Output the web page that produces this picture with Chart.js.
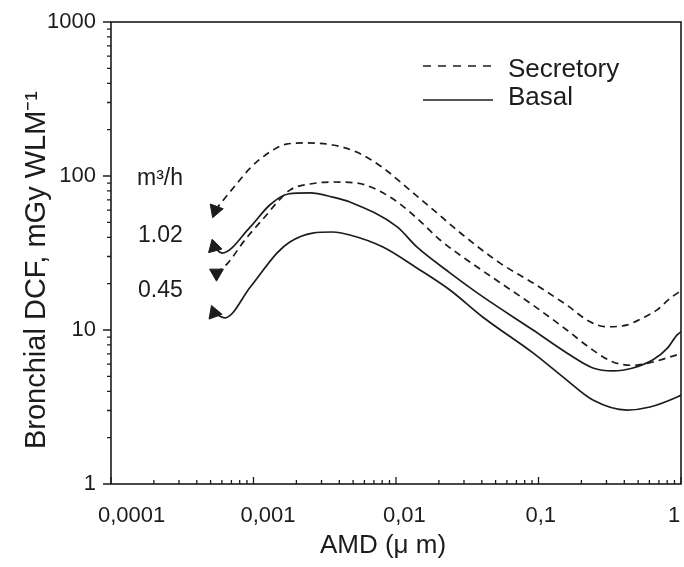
<!DOCTYPE html>
<html>
<head>
<meta charset="utf-8">
<script src="https://cdn.jsdelivr.net/npm/chart.js@4/dist/chart.umd.min.js"></script>
<style>
  html, body { margin: 0; padding: 0; background: #fff; }
  #wrap { width: 684px; height: 567px; }
</style>
</head>
<body>
<div id="wrap"><canvas id="c" width="684" height="567"></canvas></div>
<script>
// ---- data ----
const xTickValues = [0.0001, 0.001, 0.01, 0.1, 1];
const xTickLabels = ['0,0001', '0,001', '0,01', '0,1', '1'];
const yTickValues = [1, 10, 100, 1000];
const yTickLabels = ['1', '10', '100', '1000'];

const seriesNames = ['Secretory', 'Basal'];
const flowRateLabels = ['m\u00b3/h', '1.02', '0.45'];
const xTitle = 'AMD (\u03bc m)';
const yTitle = 'Bronchial DCF, mGy WLM\u207b\u00b9';

// Secretory, 1.02 m3/h (upper dashed)
const sec102X = [0.00054, 0.0006, 0.00077, 0.00095, 0.0013, 0.0017, 0.0024, 0.0036, 0.0053, 0.0081, 0.0125, 0.0194, 0.0295, 0.0537, 0.0915, 0.158, 0.23, 0.30, 0.42, 0.54, 0.68, 0.84, 1.0];
const sec102Y = [60, 68, 90, 113, 143, 161, 164, 159, 143, 113, 81, 57.5, 41.4, 27.2, 20.2, 14.5, 11.3, 10.5, 10.8, 12.0, 13.5, 16.1, 18];

// Secretory, 0.45 m3/h (lower dashed)
const sec045X = [0.00055, 0.00066, 0.00087, 0.00115, 0.0018, 0.0025, 0.0036, 0.0053, 0.0091, 0.014, 0.0204, 0.0315, 0.0537, 0.0915, 0.158, 0.241, 0.333, 0.46, 0.636, 0.94, 1.0];
const sec045Y = [23.4, 27.2, 38.4, 51.8, 81, 88.7, 91.4, 90, 73, 53.3, 38.4, 28.5, 20.3, 14.5, 10, 7.4, 6.2, 5.9, 6.2, 6.9, 7.0];

// Basal, 1.02 m3/h (upper solid)
const bas102X = [0.00053, 0.0006, 0.00095, 0.0013, 0.00175, 0.0025, 0.0036, 0.00475, 0.0102, 0.014, 0.0239, 0.0408, 0.0915, 0.158, 0.241, 0.333, 0.46, 0.636, 0.80, 0.94, 1.0];
const bas102Y = [34.6, 31.6, 46.7, 64.8, 76.4, 77.6, 73, 67.8, 46.7, 34.6, 23.5, 16.4, 10, 7.1, 5.67, 5.42, 5.67, 6.4, 7.6, 9.3, 9.7];

// Basal, 0.45 m3/h (lower solid)
const bas045X = [0.00053, 0.00063, 0.00095, 0.00146, 0.0018, 0.0026, 0.0036, 0.00475, 0.0081, 0.014, 0.0239, 0.0408, 0.0915, 0.158, 0.241, 0.418, 0.606, 0.94, 1.0];
const bas045Y = [12.9, 12.0, 19, 31.6, 37.3, 42.6, 43.3, 41.4, 34.6, 25.3, 18.2, 12.1, 7.1, 4.73, 3.51, 3.02, 3.16, 3.67, 3.78];

// ---- styling ----
const INK = '#1c1c1c';
const FAMILY = "'Liberation Sans', Arial, Helvetica, sans-serif";
const DASH = [7, 5];

function pts(xs, ys) { return xs.map((v, i) => ({ x: v, y: ys[i] })); }

function makeSet(label, xs, ys, dashed, rot) {
  return {
    label: label,
    data: pts(xs, ys),
    borderColor: INK,
    borderWidth: 1.7,
    borderDash: dashed ? DASH : [],
    fill: false,
    cubicInterpolationMode: 'monotone',
    pointStyle: 'triangle',
    pointRotation: rot,
    pointRadius: (c) => c.dataIndex === 0 ? 8 : 0,
    pointHoverRadius: 0,
    pointBackgroundColor: INK,
    pointBorderColor: INK,
    pointBorderWidth: 1
  };
}

const overlay = {
  id: 'overlay',
  afterDraw(chart) {
    const { ctx, chartArea: a, scales } = chart;
    const x = scales.x, y = scales.y;
    ctx.save();
    ctx.strokeStyle = INK;
    ctx.lineWidth = 1.6;
    ctx.setLineDash([]);
    ctx.strokeRect(a.left, a.top, a.right - a.left, a.bottom - a.top);

    // x ticks (inward)
    ctx.lineWidth = 1.3;
    ctx.beginPath();
    for (let n = -4; n <= 0; n++) {
      for (let m = 1; m <= 9; m++) {
        const v = m * Math.pow(10, n);
        if (v > 1.0000001) break;
        const px = x.getPixelForValue(v);
        const len = m === 1 ? 7 : 4;
        ctx.moveTo(px, a.bottom);
        ctx.lineTo(px, a.bottom - len);
      }
    }
    // y ticks (outward)
    for (let n = 0; n <= 3; n++) {
      for (let m = 1; m <= 9; m++) {
        const v = m * Math.pow(10, n);
        if (v > 1000.0001) break;
        const py = y.getPixelForValue(v);
        const len = m === 1 ? 8 : 4;
        ctx.moveTo(a.left, py);
        ctx.lineTo(a.left - len, py);
      }
    }
    ctx.stroke();

    // flow-rate annotations
    ctx.fillStyle = INK;
    ctx.font = '23px ' + FAMILY;
    ctx.textAlign = 'left';
    ctx.textBaseline = 'alphabetic';
    ctx.fillText(flowRateLabels[0], 137, 185);
    ctx.fillText(flowRateLabels[1], 138, 242);
    ctx.fillText(flowRateLabels[2], 138, 297);

    // legend
    ctx.lineWidth = 1.7;
    ctx.setLineDash([8, 7]);
    ctx.beginPath(); ctx.moveTo(423, 66); ctx.lineTo(498, 66); ctx.stroke();
    ctx.setLineDash([]);
    ctx.beginPath(); ctx.moveTo(423, 100); ctx.lineTo(493, 100); ctx.stroke();
    ctx.font = '26px ' + FAMILY;
    ctx.fillText(seriesNames[0], 508, 77);
    ctx.fillText(seriesNames[1], 508, 105);

    // axis titles
    ctx.font = '26px ' + FAMILY;
    ctx.textAlign = 'center';
    ctx.fillText(xTitle, 383, 553);
    ctx.save();
    ctx.translate(45, 270);
    ctx.rotate(-Math.PI / 2);
    ctx.font = '29px ' + FAMILY;
    ctx.fillText(yTitle, 0, 0);
    ctx.restore();

    ctx.restore();
  }
};

const chart = new Chart(document.getElementById('c'), {
  type: 'line',
  data: {
    datasets: [
      makeSet('Secretory 1.02', sec102X, sec102Y, true, 200),
      makeSet('Basal 1.02', bas102X, bas102Y, false, 345),
      makeSet('Secretory 0.45', sec045X, sec045Y, true, 180),
      makeSet('Basal 0.45', bas045X, bas045Y, false, 340)
    ]
  },
  options: {
    responsive: false,
    animation: false,
    events: [],
    layout: { autoPadding: false, padding: { top: 22, right: 3, left: 0, bottom: 0 } },
    plugins: { legend: { display: false }, tooltip: { enabled: false }, title: { display: false } },
    scales: {
      x: {
        type: 'logarithmic',
        min: 0.0001,
        max: 1,
        grid: { display: false, drawTicks: false },
        border: { display: false },
        title: { display: false },
        ticks: {
          color: INK,
          font: { size: 22, family: FAMILY },
          padding: 19,
          align: 'start',
          labelOffset: -13,
          maxRotation: 0,
          minRotation: 0,
          autoSkip: false,
          callback: (v) => {
            const i = xTickValues.findIndex(t => Math.abs(t - v) / t < 1e-6);
            return i >= 0 ? xTickLabels[i] : '';
          }
        },
        afterBuildTicks: (s) => { s.ticks = xTickValues.map(v => ({ value: v })); },
        afterFit: (s) => { s.height = 83; s.paddingLeft = 0; s.paddingRight = 0; }
      },
      y: {
        type: 'logarithmic',
        min: 1,
        max: 1000,
        grid: { display: false, drawTicks: false },
        border: { display: false },
        title: { display: false },
        ticks: {
          color: INK,
          font: { size: 22, family: FAMILY },
          padding: 15,
          autoSkip: false,
          callback: (v) => {
            const i = yTickValues.findIndex(t => Math.abs(t - v) / t < 1e-6);
            return i >= 0 ? yTickLabels[i] : '';
          }
        },
        afterBuildTicks: (s) => { s.ticks = yTickValues.map(v => ({ value: v })); },
        afterFit: (s) => { s.width = 111; s.paddingTop = 0; s.paddingBottom = 0; }
      }
    }
  },
  plugins: [overlay]
});
</script>
</body>
</html>
